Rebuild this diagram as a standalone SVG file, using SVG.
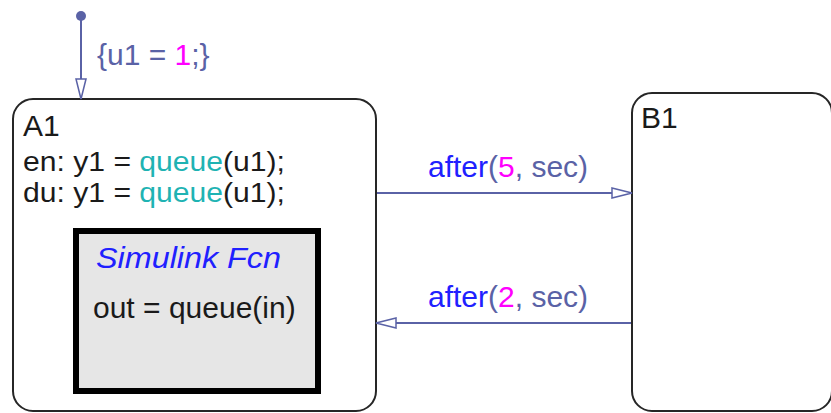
<svg xmlns="http://www.w3.org/2000/svg" width="831" height="413" viewBox="0 0 831 413">
<style>
text{font-family:"Liberation Sans",Arial,sans-serif;font-size:30px}
.st{fill:#ffffff;stroke:#262626;stroke-width:2}
.blk{fill:#1a1a1a}
.tr{fill:none;stroke:#5a62a6;stroke-width:2}
.sl{fill:#5a62a6}
.kw{fill:#2020ff}
.num{fill:#ff00ff}
.fn{fill:#1fb3b3}
.act{font-size:27px}
</style>
<defs>
<marker id="arr" viewBox="0 0 22 12" refX="21" refY="6" markerWidth="22" markerHeight="12" markerUnits="userSpaceOnUse" orient="auto">
<path d="M1,1 L21,6 L1,11 Z" fill="#ffffff" stroke="#5a62a6" stroke-width="1.5"/>
</marker>
</defs>
<rect width="831" height="413" fill="#ffffff"/>
<g id="A1">
<rect class="st" x="13" y="99" width="363" height="312" rx="20" ry="20"/>
<text class="blk" x="23" y="136">A1</text>
<text class="blk act" x="23" y="171" textLength="262" lengthAdjust="spacingAndGlyphs">en: y1 = <tspan class="fn">queue</tspan>(u1);</text>
<text class="blk act" x="23" y="202" textLength="262" lengthAdjust="spacingAndGlyphs">du: y1 = <tspan class="fn">queue</tspan>(u1);</text>
</g>
<g id="SimulinkFcn">
<rect x="76" y="231" width="242" height="160" fill="#e6e6e6" stroke="#000000" stroke-width="6"/>
<text class="kw" x="96" y="268" font-style="italic" textLength="185" lengthAdjust="spacingAndGlyphs">Simulink Fcn</text>
<text class="blk" x="93" y="318">out = queue(in)</text>
</g>
<g id="B1">
<rect class="st" x="632" y="93" width="200" height="318" rx="20" ry="20"/>
<text class="blk" x="641" y="128">B1</text>
</g>
<g id="connectors">
<circle cx="81" cy="16" r="5" class="sl"/>
<line class="tr" x1="81" y1="16" x2="81" y2="99" marker-end="url(#arr)"/>
<text class="sl" x="97" y="65">{u1 = <tspan class="num">1</tspan>;}</text>
<line class="tr" x1="377" y1="193" x2="632" y2="193" marker-end="url(#arr)"/>
<text class="sl" x="428" y="177"><tspan class="kw">after</tspan>(<tspan class="num">5</tspan>, sec)</text>
<line class="tr" x1="631" y1="323" x2="376" y2="323" marker-end="url(#arr)"/>
<text class="sl" x="428" y="307"><tspan class="kw">after</tspan>(<tspan class="num">2</tspan>, sec)</text>
</g>
</svg>
